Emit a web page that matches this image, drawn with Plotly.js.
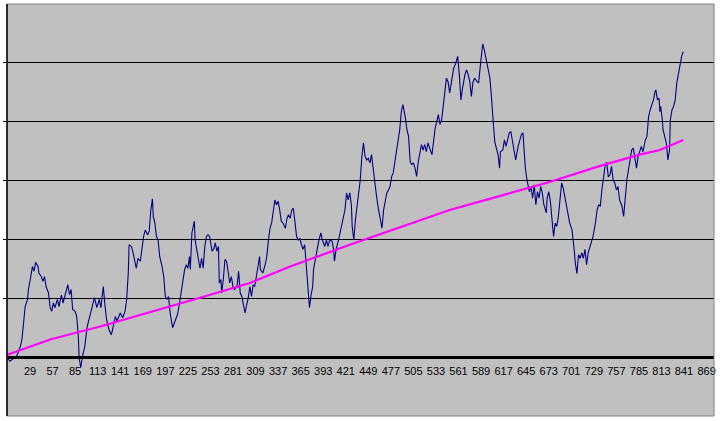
<!DOCTYPE html>
<html>
<head>
<meta charset="utf-8">
<script src="https://cdn.plot.ly/plotly-3.0.1.min.js"></script>
<style>html,body{margin:0;padding:0;background:#fff;}#chart{width:721px;height:421px;}</style>
</head>
<body>
<div id="chart"></div>
<script>
// Series (category index, value)
var seriesX = [1,4,8,12,14,17,19,21,23,26,27,30,32,34,36,39,40,43,45,47,49,52,54,56,58,60,63,65,68,70,74,76,78,80,82,85,87,89,90,92,94,97,100,103,107,109,112,115,117,120,122,124,127,130,132,135,137,141,144,147,149,151,152,155,157,161,163,166,170,172,175,177,179,181,182,184,186,188,190,193,195,197,199,201,203,205,206,209,212,214,216,219,221,223,225,227,228,230,233,234,236,238,240,242,244,246,248,250,252,255,257,259,261,263,264,266,267,269,271,273,275,277,279,281,283,286,288,290,292,294,296,298,300,302,304,306,308,310,312,314,315,318,321,323,325,327,329,331,333,335,337,339,341,343,346,348,350,352,354,356,358,360,362,364,366,368,370,372,374,376,378,380,381,383,385,387,390,392,395,397,399,401,404,406,407,409,412,414,416,418,420,422,424,426,428,429,431,433,435,437,439,441,443,445,447,449,451,453,455,457,459,461,464,466,468,470,472,474,476,478,480,482,484,486,488,490,492,495,497,499,501,503,505,507,509,511,513,515,517,519,521,523,526,528,530,532,534,536,538,540,542,544,546,548,550,553,555,557,559,560,562,564,566,569,571,573,575,577,579,581,584,586,588,590,591,593,595,597,598,600,602,604,606,608,610,612,613,616,618,620,622,624,626,628,630,632,635,637,639,641,642,644,646,649,651,653,655,657,659,661,663,665,667,670,671,673,675,677,679,681,683,685,687,689,691,693,695,697,699,702,704,705,706,708,710,712,714,716,718,720,722,724,726,728,731,733,735,737,739,741,743,745,747,749,751,753,755,757,759,761,764,766,768,770,772,774,776,778,780,782,784,786,788,790,793,795,797,799,801,803,805,806,808,810,811,812,814,815,817,819,821,823,824,826,828,830,832,834,836,838,840];
var seriesY = [-0.01,-0.07,-0.03,0.01,0.07,0.18,0.30,0.59,0.86,0.98,1.15,1.37,1.54,1.46,1.61,1.54,1.43,1.37,1.29,1.37,1.20,1.09,0.84,0.78,0.92,0.84,0.98,0.86,1.06,0.92,1.15,1.23,1.06,1.15,0.81,0.78,0.69,0.35,-0.01,-0.18,0.01,0.18,0.52,0.69,0.89,1.01,0.84,0.98,0.84,1.20,0.89,0.64,0.47,0.38,0.50,0.69,0.61,0.75,0.67,0.78,0.98,1.43,1.91,1.88,1.77,1.51,1.68,1.63,2.05,2.16,2.08,2.14,2.50,2.69,2.39,2.28,2.05,1.99,1.71,1.54,1.37,1.03,0.98,1.03,0.75,0.61,0.50,0.61,0.72,0.86,1.03,1.32,1.49,1.57,1.51,1.71,1.49,2.11,2.31,1.99,1.83,1.68,1.51,1.68,1.51,1.88,2.05,2.08,2.05,1.80,1.83,1.94,1.80,1.88,1.26,1.32,1.09,1.32,1.66,1.63,1.43,1.26,1.37,1.20,1.15,1.20,1.46,1.09,1.03,0.86,0.75,0.89,1.01,1.20,1.03,1.23,1.20,1.37,1.54,1.71,1.49,1.43,1.57,1.71,1.99,2.19,2.28,2.45,2.67,2.59,2.65,2.50,2.31,2.28,2.19,2.36,2.42,2.36,2.50,2.53,2.28,2.05,1.99,2.02,1.91,1.83,1.91,1.49,1.15,0.84,1.06,1.20,1.49,1.66,1.83,1.94,2.11,1.99,1.88,1.99,1.88,1.99,1.97,1.83,1.63,1.83,1.99,2.11,2.22,2.33,2.50,2.79,2.67,2.79,2.59,2.22,1.99,2.33,2.56,2.73,3.01,3.41,3.64,3.41,3.35,3.38,3.30,3.44,3.18,3.04,2.76,2.56,2.31,2.19,2.50,2.67,2.79,2.84,2.90,3.07,3.13,3.32,3.52,3.75,3.86,4.17,4.29,4.07,3.86,3.75,3.32,3.27,3.30,3.21,3.07,3.32,3.44,3.61,3.52,3.61,3.49,3.64,3.52,3.44,3.66,3.89,4.00,4.12,3.95,4.03,4.26,4.46,4.74,4.68,4.49,4.74,4.91,4.97,5.05,5.11,4.80,4.37,4.57,4.80,4.88,4.80,4.68,4.43,4.68,4.74,4.68,4.66,4.94,5.25,5.32,5.22,5.08,4.97,4.85,4.74,4.40,4.00,3.66,3.55,3.44,3.21,3.49,3.52,3.69,3.58,3.72,3.81,3.83,3.66,3.55,3.35,3.58,3.69,3.78,3.81,3.61,3.21,3.01,2.81,2.90,2.70,2.93,2.59,2.81,2.70,2.90,2.79,2.59,2.45,2.70,2.81,2.65,2.39,2.05,2.28,2.22,2.39,2.67,2.96,2.87,2.73,2.62,2.45,2.28,2.16,1.94,1.77,1.60,1.42,1.74,1.68,1.77,1.68,1.83,1.57,1.77,1.88,1.99,2.05,2.28,2.50,2.59,2.56,2.84,3.10,3.25,3.31,3.06,3.10,3.24,3.01,2.96,2.84,2.90,2.67,2.56,2.39,2.73,3.01,3.18,3.35,3.52,3.55,3.35,3.21,3.41,3.52,3.58,3.49,3.69,3.75,4.09,4.20,4.29,4.37,4.51,4.54,4.37,4.40,4.17,4.26,4.03,3.86,3.75,3.64,3.35,3.52,4.03,4.20,4.26,4.37,4.66,4.83,4.94,5.11,5.19];
// Trend line
var trendX = [1,54,116,178,240,302,352,426,488,550,613,675,737,786,811,840];
var trendY = [0.04,0.30,0.52,0.76,1.01,1.26,1.54,1.91,2.20,2.50,2.74,2.98,3.25,3.44,3.52,3.69];
// Category tick labels
var tickLabels = ['29','57','85','113','141','169','197','225','253','281','309','337','365','393','421','449','477','505','533','561','589','617','645','673','701','729','757','785','813','841','869'];
var yTicks = [1,2,3,4,5];

var traces = [
  {x: seriesX, y: seriesY, type: 'scatter', mode: 'lines', line: {color: '#000080', width: 1.1}, hoverinfo: 'skip'},
  {x: trendX, y: trendY, type: 'scatter', mode: 'lines', line: {color: '#FF00FF', width: 2.2}, hoverinfo: 'skip'}
];
var layout = {
  width: 721, height: 421,
  margin: {l: 7, r: 7, t: 4, b: 5, pad: 0},
  paper_bgcolor: '#ffffff',
  plot_bgcolor: '#C0C0C0',
  showlegend: false,
  font: {family: 'Liberation Sans, Arial, sans-serif', size: 11, color: '#000'},
  xaxis: {
    range: [0.44, 878.2],
    anchor: 'free', position: 1/7,
    showline: true, linecolor: '#000', linewidth: 3,
    showgrid: false, zeroline: false,
    tickmode: 'array', tickvals: tickLabels.map(Number), ticktext: tickLabels,
    ticks: 'outside', ticklen: 3, tickcolor: 'rgba(0,0,0,0)',
    tickfont: {family: 'Liberation Sans, Arial, sans-serif', size: 11, color: '#000'}
  },
  yaxis: {
    range: [-1, 6],
    tickmode: 'array', tickvals: yTicks,
    showgrid: true, gridcolor: '#000', gridwidth: 1,
    zeroline: false, showline: false,
    showticklabels: false,
    ticks: 'outside', ticklen: 3, tickcolor: '#000', tickwidth: 1
  },
  shapes: [
    {type: 'rect', xref: 'paper', yref: 'paper', x0: 0, x1: 1, y0: 0, y1: 1, line: {color: '#808080', width: 1}, layer: 'above'},
    {type: 'line', xref: 'paper', yref: 'paper', x0: 0, x1: 0, y0: 0, y1: 1, line: {color: '#000', width: 1.5}, layer: 'above'}
  ]
};
Plotly.newPlot('chart', traces, layout, {displayModeBar: false, staticPlot: true});
</script>
</body>
</html>
